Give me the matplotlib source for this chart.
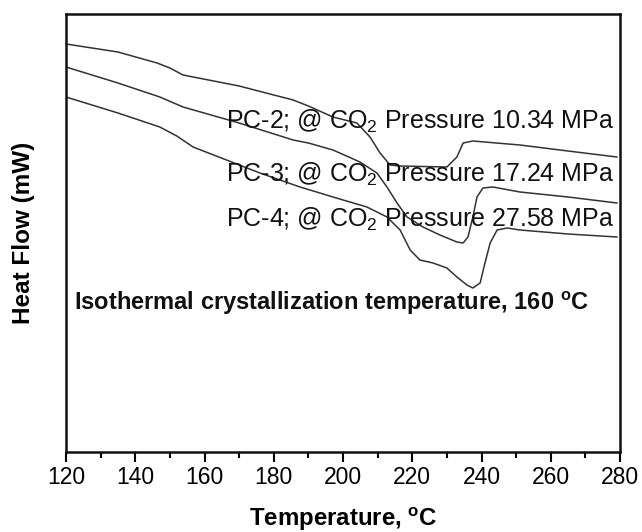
import matplotlib
matplotlib.use("Agg")
import matplotlib.pyplot as plt
from matplotlib.ticker import MultipleLocator

plt.rcParams['font.family'] = ['Liberation Sans', 'DejaVu Sans']
plt.rcParams['mathtext.fontset'] = 'custom'
plt.rcParams['mathtext.rm'] = 'Liberation Sans'
plt.rcParams['mathtext.it'] = 'Liberation Sans:italic'
plt.rcParams['mathtext.bf'] = 'Liberation Sans:bold'

# Temperature (°C) and heat flow (arbitrary units, no y scale shown)
t_pc2 = [120, 135, 146.3, 150, 153.8, 170, 185.6, 190, 197.1, 204.0, 207.8, 210.7, 213.6, 216.5,
         230.0, 232.9, 234.7, 237.5, 251.1, 265, 279.1]
h_pc2 = [408, 400, 389, 384, 377, 366, 352, 346, 335, 329, 315, 299, 287, 286,
         285, 295, 309, 311, 307, 301, 295]

t_pc3 = [120, 135, 147.1, 153.8, 170, 185.6, 190, 197.1, 204.9, 209.8, 212.7, 215.6, 218.5, 223.1,
         228.0, 232.9, 234.7, 236.1, 237.5, 238.7, 240.4, 243.3, 251.1, 265, 279.1]
h_pc3 = [385, 369, 355, 345, 329, 312, 309, 302, 290, 279, 265, 249, 235, 225,
         217, 210, 209, 215, 235, 255, 264, 265, 260, 255, 249]

t_pc4 = [120, 135, 147.1, 152, 156.7, 176.0, 187.6, 197.1, 206.9, 212.7, 216.5, 219.4, 222.2, 226.0,
         230.0, 232.9, 235.8, 237.5, 239.6, 241.0, 242.5, 244.5, 247.4, 251.1, 265, 279.1]
h_pc4 = [355, 339, 325, 316, 305, 279, 265, 255, 245, 235, 222, 202, 192, 189,
         184, 175, 167, 164, 169, 189, 209, 222, 224, 222, 218, 215]

labels = ['PC-2; @ CO$_2$ Pressure 10.34 MPa',
          'PC-3; @ CO$_2$ Pressure 17.24 MPa',
          'PC-4; @ CO$_2$ Pressure 27.58 MPa']
label_y = [323, 270, 225]

fig = plt.figure(figsize=(6.42, 5.32), dpi=100)
ax = fig.add_axes([66/642, 1 - 452/532, (620-66)/642, (452-14)/532])

for t, h in [(t_pc2, h_pc2), (t_pc3, h_pc3), (t_pc4, h_pc4)]:
    ax.plot(t, h, color='#333333', lw=1.1)

for lab, y in zip(labels, label_y):
    ax.text(278.2, y, lab, ha='right', va='baseline', fontsize=18, color='#111111')

ax.text(122.2, 142, r'Isothermal crystallization temperature, 160 $^{\mathbf{o}}$C',
        ha='left', va='baseline', fontsize=17, fontweight='bold', color='#111111')

ax.set_xlim(120, 280)
ax.set_ylim(0, 438)
ax.xaxis.set_major_locator(MultipleLocator(20))
ax.xaxis.set_minor_locator(MultipleLocator(10))
ax.tick_params(axis='x', which='major', direction='out', length=7, width=1.5, labelsize=16.5, pad=3)
ax.tick_params(axis='x', which='minor', direction='out', length=4, width=1.5)
ax.set_yticks([])
for s in ax.spines.values():
    s.set_linewidth(1.8)
    s.set_color('#111111')

ax.set_xlabel(r'Temperature, $^{\mathbf{o}}$C', fontsize=17.3, fontweight='bold', labelpad=12)
ax.set_ylabel('Heat Flow (mW)', fontsize=17.5, fontweight='bold', labelpad=22)

fig.savefig('out.png', dpi=100)
